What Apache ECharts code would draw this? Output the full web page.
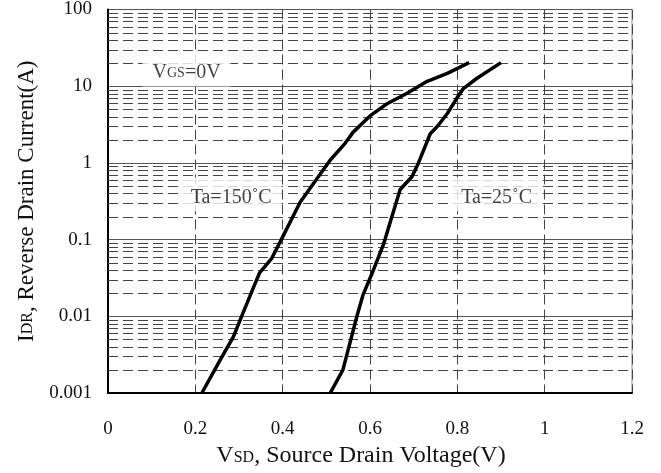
<!DOCTYPE html>
<html>
<head>
<meta charset="UTF-8">
<script src="https://cdn.jsdelivr.net/npm/echarts@6/dist/echarts.min.js"></script>
<style>
  html, body { margin: 0; padding: 0; background: #fff; }
</style>
</head>
<body>
<div id="main" style="width: 661px; height: 473px;"></div>
<script>
// Ta=150°C curve: VSD (V) and IDR (A)
var vsd150 = [0.215, 0.257, 0.287, 0.306, 0.333, 0.347, 0.375, 0.398, 0.44, 0.509, 0.543, 0.561, 0.600, 0.639, 0.685, 0.731, 0.777, 0.827];
var idr150 = [0.001, 0.0027, 0.0054, 0.01, 0.0236, 0.0367, 0.057, 0.103, 0.307, 1.09, 1.8, 2.5, 4.1, 5.9, 8.1, 11.6, 14.7, 20.3];
// Ta=25°C curve
var vsd25 = [0.509, 0.538, 0.570, 0.584, 0.607, 0.630, 0.635, 0.669, 0.696, 0.711, 0.738, 0.756, 0.777, 0.799, 0.813, 0.845, 0.900];
var idr25 = [0.001, 0.002, 0.01, 0.019, 0.039, 0.084, 0.103, 0.45, 0.66, 1.0, 2.4, 3.07, 4.4, 7.0, 9.2, 12.7, 20.3];

var xTicks = [0, 0.2, 0.4, 0.6, 0.8, 1, 1.2];
var yTicks = [0.001, 0.01, 0.1, 1, 10, 100];

var FONT = '"Liberation Serif", "Times New Roman", serif';
var xMin = xTicks[0], xMax = xTicks[xTicks.length - 1];

function zip(xs, ys) {
  var out = [];
  for (var i = 0; i < xs.length; i++) out.push([xs[i], ys[i]]);
  return out;
}

// dashed minor grid lines at 2..9 of each decade
var minorLines = [];
for (var d = 0; d < yTicks.length - 1; d++) {
  for (var m = 2; m <= 9; m++) {
    minorLines.push([xMin, +(yTicks[d] * m).toPrecision(3)]);
  }
}

var titleRich = {
  n: { fontSize: 24, fontFamily: FONT, color: '#111', lineHeight: 28, verticalAlign: 'bottom' },
  s: { fontSize: 16, fontFamily: FONT, color: '#111', lineHeight: 28, verticalAlign: 'bottom', padding: [0, 0, 2, 0] }
};
var yTitleRich = {
  n: { fontSize: 23, fontFamily: FONT, color: '#111', lineHeight: 28, verticalAlign: 'bottom' },
  s: { fontSize: 16, fontFamily: FONT, color: '#111', lineHeight: 28, verticalAlign: 'bottom', padding: [0, 0, 2, 0] }
};
var noteRich = {
  n: { fontSize: 20, fontFamily: FONT, color: '#111', lineHeight: 24, verticalAlign: 'bottom' },
  s: { fontSize: 14, fontFamily: FONT, color: '#111', lineHeight: 24, verticalAlign: 'bottom', padding: [0, 0, 2, 0] }
};

var chart = echarts.init(document.getElementById('main'));
var option = {
  animation: false,
  backgroundColor: '#fff',
  grid: {
    left: 108, right: 29, top: 7, bottom: 76,
    show: true, borderColor: '#888', borderWidth: 1
  },
  xAxis: {
    type: 'value',
    min: xMin, max: xMax, interval: 0.2,
    axisLine: { show: true, lineStyle: { color: '#000', width: 2 } },
    axisTick: { show: false },
    axisLabel: { margin: 27, fontSize: 19, fontFamily: FONT, color: '#111' },
    splitLine: { show: true, lineStyle: { color: '#444', width: 1, type: [10, 5] } },
    name: '{n|V}{s|SD}{n|, Source Drain Voltage(V)}',
    nameLocation: 'middle',
    nameGap: 47,
    nameTextStyle: { rich: titleRich, padding: [0, 18, 0, 0] }
  },
  yAxis: {
    type: 'log',
    logBase: 10,
    min: yTicks[0], max: yTicks[yTicks.length - 1],
    axisLine: { show: true, lineStyle: { color: '#000', width: 2 } },
    axisTick: { show: false },
    axisLabel: {
      margin: 16, fontSize: 19, fontFamily: FONT, color: '#111',
      formatter: function (v) { return String(parseFloat(v.toPrecision(6))); }
    },
    splitLine: { show: true, lineStyle: { color: '#555', width: 1 } },
    name: '{n|I}{s|DR}{n|, Reverse Drain Current(A)}',
    nameLocation: 'middle',
    nameGap: 70,
    nameRotate: 90,
    nameTextStyle: { rich: yTitleRich }
  },
  series: [
    {
      type: 'custom',
      silent: true,
      z: 1,
      data: minorLines,
      renderItem: function (params, api) {
        var v = api.value(1);
        var p1 = api.coord([xMin, v]);
        var p2 = api.coord([xMax, v]);
        var y = Math.round(p1[1]) + 0.5;
        return {
          type: 'line',
          shape: { x1: p1[0], y1: y, x2: p2[0], y2: y },
          style: { stroke: '#444', lineWidth: 1, lineDash: [10, 5] }
        };
      }
    },
    {
      name: 'Ta=150°C',
      type: 'line',
      data: zip(vsd150, idr150),
      showSymbol: false,
      lineStyle: { color: '#000', width: 3.5 },
      z: 5
    },
    {
      name: 'Ta=25°C',
      type: 'line',
      data: zip(vsd25, idr25),
      showSymbol: false,
      lineStyle: { color: '#000', width: 3.5 },
      z: 5
    },
    {
      type: 'scatter',
      symbolSize: 0,
      silent: true,
      z: 3,
      label: {
        show: true,
        position: 'inside',
        backgroundColor: '#fff',
        padding: [6, 10, 4, 10],
        rich: noteRich,
        formatter: function (p) { return p.data.text; }
      },
      data: [
        { value: [0.18, 16.5], text: '{n|V}{s|GS}{n|=0V}' },
        { value: [0.282, 0.39], text: '{n|Ta=150˚C}' },
        { value: [0.89, 0.39], text: '{n|Ta=25˚C}' }
      ]
    }
  ]
};
chart.setOption(option);
</script>
</body>
</html>
